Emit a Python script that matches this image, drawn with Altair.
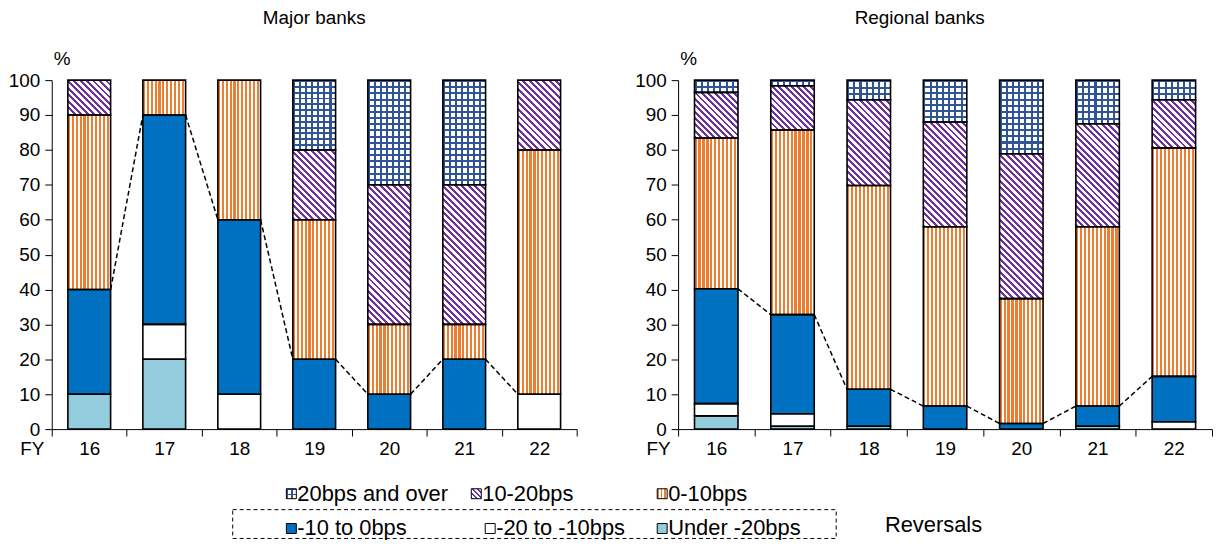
import math
import altair as alt

# ---------------- data ----------------
years = ["16", "17", "18", "19", "20", "21", "22"]
cats = ["Under -20bps", "-20 to -10bps", "-10 to 0bps", "0-10bps", "10-20bps", "20bps and over"]

major_under20 = [10, 20, 0, 0, 0, 0, 0]
major_m20_m10 = [0, 10, 10, 0, 0, 0, 10]
major_m10_0 = [30, 60, 50, 20, 10, 20, 0]
major_0_10 = [50, 10, 40, 40, 20, 10, 70]
major_10_20 = [10, 0, 0, 20, 40, 40, 20]
major_20_over = [0, 0, 0, 20, 30, 30, 0]

regional_under20 = [3.8, 0.8, 0.8, 0, 0, 0.8, 0]
regional_m20_m10 = [3.5, 3.6, 0, 0, 0, 0, 2.1]
regional_m10_0 = [32.9, 28.4, 10.6, 6.6, 1.6, 5.8, 13.0]
regional_0_10 = [43.2, 52.9, 58.4, 51.4, 35.8, 51.4, 65.5]
regional_10_20 = [13.1, 12.7, 24.6, 30.0, 41.5, 29.5, 13.8]
regional_20_over = [3.5, 1.6, 5.6, 12.0, 21.1, 12.5, 5.6]

legend_row1 = ["20bps and over", "10-20bps", "0-10bps"]
legend_row2 = ["-10 to 0bps", "-20 to -10bps", "Under -20bps"]

# ---------------- style ----------------
FONT = "Liberation Sans"
FS = 19
LFS = 22
PLOT_H = 351
MAJOR_W = 528
REG_W = 537
BAND_FRAC = 0.57
BLUE = "#0070C0"
LIGHTBLUE = "#93CDDD"
ORANGE = "#ED7D31"
PURPLE = "#7030A0"
GRIDC = "#2F5597"
CLEAR = "rgba(255,255,255,0)"


def stripe_stops(c1, c2, n, frac):
    stops = []
    for k in range(n):
        a = k / n
        b = (k + frac) / n
        c = (k + 1) / n
        stops += [{"offset": a, "color": c1}, {"offset": b, "color": c1},
                  {"offset": b, "color": c2}, {"offset": c, "color": c2}]
    return stops


def vstripes(c1, c2, n, frac):
    return {"gradient": "linear", "x1": 0, "y1": 0, "x2": 1, "y2": 0,
            "stops": stripe_stops(c1, c2, n, frac)}


def hstripes(c1, c2, n, frac):
    return {"gradient": "linear", "x1": 0, "y1": 0, "x2": 0, "y2": 1,
            "stops": stripe_stops(c1, c2, n, frac)}


def diag(w, h, color, frac, period):
    s = w * w + h * h
    du = w * (w + h) / s
    dv = -h * (w + h) / s
    n = max(1, round((w + h) / (math.sqrt(2) * period)))
    return {"gradient": "linear", "x1": 0, "y1": 1, "x2": du, "y2": 1 + dv,
            "stops": stripe_stops(color, "white", n, frac)}


def style_for(cat, w, hpx):
    if cat == "Under -20bps":
        return LIGHTBLUE, None
    if cat == "-20 to -10bps":
        return "white", None
    if cat == "-10 to 0bps":
        return BLUE, None
    if cat == "0-10bps":
        return vstripes(ORANGE, "white", max(1, round(w / 3.9)), 0.55), None
    if cat == "10-20bps":
        return diag(w, hpx, PURPLE, 0.45, 4.6), None
    base = vstripes(GRIDC, "white", max(1, round(w / 6.1)), 0.33)
    over = hstripes(GRIDC, CLEAR, max(1, round(hpx / 6.1)), 0.33)
    return base, over


def make_axes():
    xaxis = alt.Axis(tickBand="extent", tickSize=7, tickColor="black", domainColor="black",
                     labelAngle=0, labelFontSize=FS, labelFont=FONT, labelColor="black",
                     labelPadding=4, grid=False, title="FY", titleX=-8, titleY=11,
                     titleAlign="right", titleBaseline="top", titleFont=FONT,
                     titleFontSize=FS, titleFontWeight="normal", titleColor="black")
    yaxis = alt.Axis(values=list(range(0, 101, 10)), tickSize=7, tickColor="black",
                     domainColor="black", labelFontSize=FS, labelFont=FONT,
                     labelColor="black", labelPadding=5, grid=False, title="%",
                     titleAngle=0, titleX=10, titleY=-22, titleAlign="center",
                     titleBaseline="middle", titleFont=FONT, titleFontSize=FS,
                     titleFontWeight="normal", titleColor="black")
    return xaxis, yaxis


def panel(series, width, title, title_x, with_legend):
    step = width / 7.0
    w = BAND_FRAC * step
    recs, overs, tops = [], [], []
    for i, yr in enumerate(years):
        lo = 0.0
        rev = 0.0
        for j, (c, arr) in enumerate(zip(cats, series)):
            v = arr[i]
            if j < 3:
                rev += v
            if v <= 0:
                continue
            hi = lo + v
            fill, over = style_for(c, w, v / 100.0 * PLOT_H)
            recs.append({"fy": yr, "cat": c, "lo": lo, "hi": hi, "pat": fill})
            if over is not None:
                overs.append({"fy": yr, "cat": c, "lo": lo, "hi": hi, "pat": over})
            lo = hi
        tops.append(rev)
    lines = []
    for i in range(len(years) - 1):
        lines.append({"xs": i + 0.5 + BAND_FRAC / 2, "xe": i + 1.5 - BAND_FRAC / 2,
                      "ys": tops[i], "ye": tops[i + 1]})

    xscale = alt.Scale(domain=years, paddingInner=0, paddingOuter=0)
    yscale = alt.Scale(domain=[0, 100], nice=False)
    xaxis, yaxis = make_axes()

    def bar_enc(ch):
        return ch.encode(
            x=alt.X("fy:N", scale=xscale, axis=xaxis, sort=years),
            y=alt.Y("lo:Q", scale=yscale, axis=yaxis),
            y2="hi:Q")

    base = bar_enc(alt.Chart(alt.Data(values=recs)).mark_bar(
        width=alt.RelativeBandSize(BAND_FRAC))).encode(fill=alt.Fill("pat:N", scale=None))
    layers_inner = [base]
    if overs:
        layers_inner.append(bar_enc(alt.Chart(alt.Data(values=overs)).mark_bar(
            width=alt.RelativeBandSize(BAND_FRAC))).encode(fill=alt.Fill("pat:N", scale=None)))
    layers_inner.append(bar_enc(alt.Chart(alt.Data(values=recs)).mark_bar(
        width=alt.RelativeBandSize(BAND_FRAC), fillOpacity=0, stroke="black",
        strokeWidth=1.6)))
    inner = alt.layer(*layers_inner)

    rules = alt.Chart(alt.Data(values=lines)).mark_rule(
        color="black", strokeDash=[5, 3], strokeWidth=1.5).encode(
        x=alt.X("xs:Q", scale=alt.Scale(domain=[0, 7], nice=False, zero=False), axis=None),
        x2="xe:Q",
        y=alt.Y("ys:Q", scale=yscale, axis=yaxis),
        y2="ye:Q")

    ttl = alt.Chart(alt.Data(values=[{}])).mark_text(
        text=title, font=FONT, fontSize=FS, color="black", align="center",
        baseline="middle").encode(x=alt.value(title_x), y=alt.value(-62))

    layers = [inner, rules, ttl]
    if with_legend:
        layers += legend_layers()
    return alt.layer(*layers).resolve_scale(x="independent").properties(
        width=width, height=PLOT_H)


def legend_layers():
    sq = 10
    row1_y, row2_y = 416, 451
    row1_x = [236, 422, 609]
    row2_x = [236, 436, 609]
    fills1 = [vstripes(GRIDC, "white", 2, 0.33), diag(sq, sq, PURPLE, 0.45, 3.6),
              vstripes(ORANGE, "white", 3, 0.55)]
    fills2 = [BLUE, "white", LIGHTBLUE]
    squares, overs, texts = [], [], []
    for lab, x0, f in zip(legend_row1, row1_x, fills1):
        squares.append({"lx": x0, "lx2": x0 + sq, "ly": row1_y - sq / 2, "ly2": row1_y + sq / 2, "pat": f})
        texts.append({"tx": x0 + sq + 1, "ty": row1_y, "label": lab})
    overs.append({"lx": row1_x[0], "lx2": row1_x[0] + sq, "ly": row1_y - sq / 2,
                  "ly2": row1_y + sq / 2, "pat": hstripes(GRIDC, CLEAR, 2, 0.33)})
    for lab, x0, f in zip(legend_row2, row2_x, fills2):
        squares.append({"lx": x0, "lx2": x0 + sq, "ly": row2_y - sq / 2, "ly2": row2_y + sq / 2, "pat": f})
        texts.append({"tx": x0 + sq + 1, "ty": row2_y, "label": lab})
    texts.append({"tx": 838, "ty": 447, "label": "Reversals"})

    def rect_layer(data):
        return alt.Chart(alt.Data(values=data)).mark_rect().encode(
            x=alt.X("lx:Q", scale=None), x2="lx2:Q",
            y=alt.Y("ly:Q", scale=None), y2="ly2:Q",
            fill=alt.Fill("pat:N", scale=None))

    outline = alt.Chart(alt.Data(values=squares)).mark_rect(
        fillOpacity=0, stroke="black", strokeWidth=1).encode(
        x=alt.X("lx:Q", scale=None), x2="lx2:Q",
        y=alt.Y("ly:Q", scale=None), y2="ly2:Q")
    txt = alt.Chart(alt.Data(values=texts)).mark_text(
        align="left", baseline="middle", font=FONT, fontSize=LFS, color="black").encode(
        x=alt.X("tx:Q", scale=None), y=alt.Y("ty:Q", scale=None), text="label:N")
    box = alt.Chart(alt.Data(values=[{}])).mark_rect(
        fillOpacity=0, stroke="black", strokeDash=[4, 3], strokeWidth=1).encode(
        x=alt.value(182), x2=alt.value(789), y=alt.value(432), y2=alt.value(461))
    return [rect_layer(squares), rect_layer(overs), outline, txt, box]


major_series = [major_under20, major_m20_m10, major_m10_0, major_0_10, major_10_20, major_20_over]
regional_series = [regional_under20, regional_m20_m10, regional_m10_0, regional_0_10,
                   regional_10_20, regional_20_over]

major = panel(major_series, MAJOR_W, "Major banks", MAJOR_W / 2, True)
regional = panel(regional_series, REG_W, "Regional banks", 243, False)

chart = alt.hconcat(major, regional, spacing=102, bounds="flush").properties(
    padding=0).configure(font=FONT, background="white").configure_view(strokeWidth=0)

chart.save("out.html", embed_options={"renderer": "svg", "actions": False})
